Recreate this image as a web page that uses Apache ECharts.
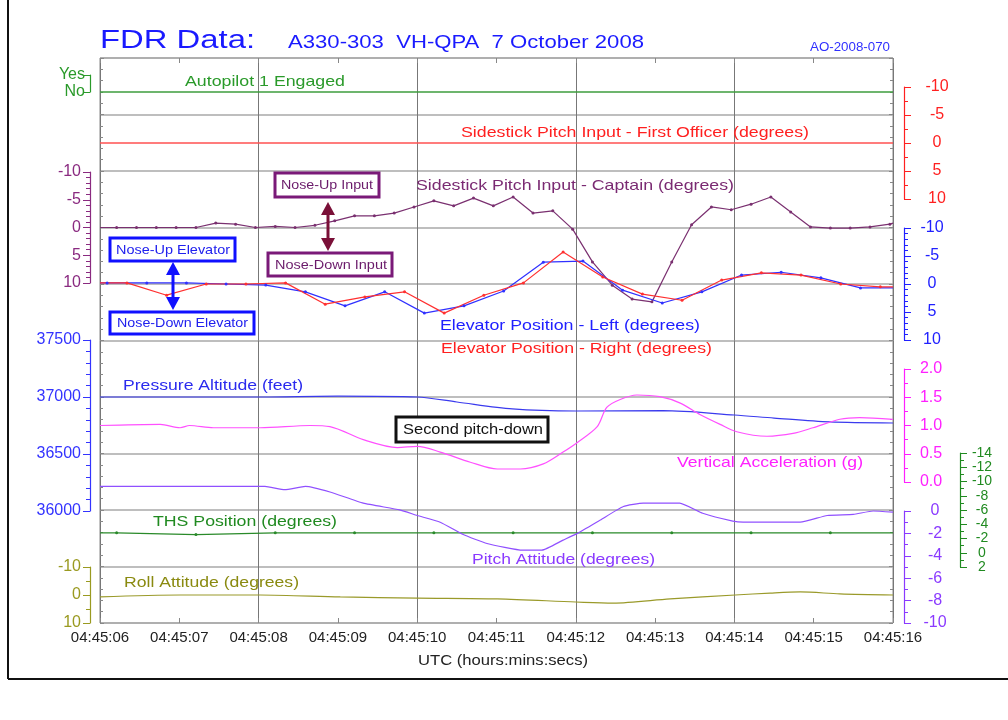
<!DOCTYPE html>
<html>
<head>
<meta charset="utf-8">
<title>FDR Data A330-303 VH-QPA</title>
<script src="https://cdn.jsdelivr.net/npm/echarts@6/dist/echarts.min.js"></script>
<style>
  html, body { margin: 0; padding: 0; background: #fff; }
  #chart { width: 1008px; height: 720px; }
</style>
</head>
<body>
<div id="chart"></div>
<script>
  // time axis: seconds after 04:45:06
  var xLabels = ['04:45:06', '04:45:07', '04:45:08', '04:45:09', '04:45:10', '04:45:11',
    '04:45:12', '04:45:13', '04:45:14', '04:45:15', '04:45:16']

  // autopilot 1 engaged (1 = yes, 0 = no) and first officer sidestick
  var apT = [0, 10]
  var apV = [0, 0]
  var foT = [0, 10]
  var foV = [0, 0]

  // captain sidestick pitch input (4 Hz)
  var capT = [0, 0.21, 0.46, 0.71, 0.96, 1.21, 1.46, 1.71, 1.96, 2.21, 2.46, 2.71, 2.96, 3.21,
    3.46, 3.71, 3.96, 4.21, 4.46, 4.71, 4.96, 5.21, 5.46, 5.71, 5.96, 6.21, 6.46, 6.71, 6.96,
    7.21, 7.46, 7.71, 7.96, 8.21, 8.46, 8.71, 8.96, 9.21, 9.46, 9.71, 9.96, 10]
  var capV = [0, 0, 0, 0, 0, 0, -0.8, -0.6, 0, -0.2, 0, -0.4, -1.2, -2.1, -2.1, -2.6, -3.7,
    -4.8, -3.9, -5.3, -3.9, -5.5, -2.6, -3.0, 0.3, 6.2, 10.4, 12.9, 13.4, 6.2, -0.5, -3.7,
    -3.2, -4.2, -5.5, -2.8, -0.1, 0.1, 0.1, -0.1, -0.6, -0.8]

  // elevator positions (2 Hz)
  var elLT = [0, 0.09, 0.59, 1.09, 1.59, 2.09, 2.59, 3.09, 3.59, 4.09, 4.59, 5.09, 5.59, 6.09,
    6.59, 7.09, 7.59, 8.09, 8.59, 9.09, 9.59, 10]
  var elLV = [-0.2, -0.2, -0.2, -0.2, 0, 0.2, 1.4, 3.9, 1.4, 5.2, 3.9, 1.25, -3.9, -4.1, 1.1,
    3.4, 1.4, -1.6, -2.1, -1.1, 0.7, 0.7]
  var elRT = [0, 0.34, 0.84, 1.34, 1.84, 2.34, 2.84, 3.34, 3.84, 4.34, 4.84, 5.34, 5.84, 6.34,
    6.84, 7.34, 7.84, 8.34, 8.84, 9.34, 9.84, 10]
  var elRV = [-0.2, -0.2, 2.0, 0, 0, -0.2, 3.6, 2.3, 1.4, 5.2, 2.0, -0.2, -5.7, -1.25, 1.8,
    2.9, -0.7, -2.0, -1.6, 0, 0.5, 0.5]

  // pressure altitude (feet)
  var paT = [0, 2, 3, 4, 4.5, 5.2, 6, 7.1, 8, 8.5, 9.2, 10]
  var paV = [37000, 37000, 37008, 37000, 36956, 36895, 36877, 36880, 36842, 36815, 36781, 36772]

  // vertical acceleration (g)
  var vaT = [0, 0.76, 1.01, 1.13, 1.43, 2.02, 2.65, 2.9, 3.32, 3.75, 4.0, 4.29, 4.67, 5.01,
    5.3, 5.59, 5.84, 6.02, 6.27, 6.39, 6.56, 6.77, 7.06, 7.31, 7.57, 7.82, 8.03, 8.41, 8.74,
    8.99, 9.33, 9.58, 10]
  var vaV = [1.0, 1.02, 0.96, 1.0, 0.96, 0.96, 1.0, 0.98, 0.75, 0.61, 0.63, 0.53, 0.35, 0.23,
    0.23, 0.32, 0.53, 0.70, 0.98, 1.32, 1.46, 1.54, 1.51, 1.40, 1.19, 1.02, 0.89, 0.81, 0.86,
    0.96, 1.11, 1.14, 1.11]

  // THS position (1 Hz)
  var thsT = [0, 0.21, 1.21, 2.21, 3.21, 4.21, 5.21, 6.21, 7.21, 8.21, 9.21, 10]
  var thsV = [-2.8, -2.8, -2.55, -2.8, -2.8, -2.8, -2.8, -2.8, -2.8, -2.8, -2.8, -2.8]

  // pitch attitude (degrees)
  var piT = [0, 2.08, 2.33, 2.59, 2.9, 3.32, 3.78, 4.0, 4.29, 4.58, 4.88, 5.33, 5.57, 5.84,
    6.02, 6.31, 6.6, 6.85, 7.31, 7.6, 7.98, 8.11, 8.83, 9.17, 9.5, 9.75, 10]
  var piV = [2.2, 2.2, 1.9, 2.2, 1.7, 0.7, 0.1, -0.4, -1.0, -2.1, -2.9, -3.5, -3.5, -2.6,
    -2.0, -0.8, 0.4, 0.7, 0.7, -0.2, -0.9, -1.0, -1.0, -0.4, -0.3, 0, -0.1]

  // roll attitude (degrees)
  var roT = [0, 1.01, 2.02, 3.03, 4.0, 5.01, 6.0, 6.47, 7.19, 8.01, 8.45, 8.83, 9.33, 10]
  var roV = [0.7, 0, 0, 0.7, 1.1, 1.4, 2.5, 2.9, 1.4, 0, -0.7, -1.1, -0.4, 0]

  var FONT = '"Liberation Sans", Arial, sans-serif'
  var L = 100
  var R = 115

  var grids = [
    { left: L, right: R, top: 58, height: 565, show: true, borderColor: '#888', borderWidth: 1 },
    { left: L, right: R, top: 75, height: 17 }, // autopilot
    { left: L, right: R, top: 87, height: 112 }, // first officer
    { left: L, right: R, top: 172, height: 111 }, // captain
    { left: L, right: R, top: 228, height: 112 }, // elevators
    { left: L, right: R, top: 340, height: 171 }, // pressure altitude
    { left: L, right: R, top: 369, height: 113 }, // vertical accel
    { left: L, right: R, top: 453, height: 114 }, // THS
    { left: L, right: R, top: 511, height: 112 }, // pitch
    { left: L, right: R, top: 567, height: 56 } // roll
  ]

  var xAxes = [
    {
      gridIndex: 0, type: 'value', min: 0, max: 10, interval: 1, position: 'bottom',
      axisLine: { show: false, onZero: false },
      axisTick: { inside: true, length: 5, lineStyle: { color: '#888' } },
      axisLabel: {
        margin: 7, fontSize: 15, fontFamily: FONT, color: '#222',
        formatter: function (v) { return xLabels[Math.round(v)] }
      },
      splitLine: { show: false }
    },
    {
      gridIndex: 0, type: 'value', min: 0, max: 10, interval: 2,
      axisLine: { show: false, onZero: false }, axisTick: { show: false }, axisLabel: { show: false },
      splitLine: { show: true, lineStyle: { color: '#777', width: 1 } }
    },
    {
      gridIndex: 0, type: 'value', min: 0, max: 10, interval: 1, position: 'top',
      axisLine: { show: false, onZero: false },
      axisTick: { inside: true, length: 5, lineStyle: { color: '#888' } },
      axisLabel: { show: false }, splitLine: { show: false }
    }
  ]
  for (var g = 1; g < grids.length; g++) {
    xAxes.push({ gridIndex: g, type: 'value', min: 0, max: 10, show: false, axisLine: { onZero: false } })
  }

  function borderAxis (pos, split) {
    return {
      gridIndex: 0, type: 'value', min: 0, max: 10, interval: 1, position: pos,
      axisLine: { show: false, onZero: false },
      axisTick: { inside: true, length: 4, lineStyle: { color: '#888' } },
      minorTick: { show: true, splitNumber: 5, length: 3, lineStyle: { color: '#888' } },
      axisLabel: { show: false },
      splitLine: { show: split, lineStyle: { color: '#a8a8a8', width: 1.5 } }
    }
  }

  function traceAxis (o) {
    var right = o.side === 'right'
    var label = {
      color: o.color, fontSize: o.size || 16, fontFamily: FONT, margin: o.margin,
      showMinLabel: true, showMaxLabel: true, hideOverlap: false,
      formatter: o.fmt || function (v) { return String(v) }
    }
    if (right) label.align = 'center'
    return {
      gridIndex: o.grid, type: 'value', position: o.side, offset: right ? (o.offset || 11) : 10,
      min: o.min, max: o.max, interval: o.interval, inverse: !!o.inverse,
      axisLine: { show: true, onZero: false, lineStyle: { color: o.color, width: 1.2 } },
      axisTick: { show: true, length: 7, lineStyle: { color: o.color } },
      minorTick: { show: !!o.minor, splitNumber: o.minor || 1, length: 4, lineStyle: { color: o.color } },
      axisLabel: label,
      splitLine: { show: false }
    }
  }

  var yAxes = [
    borderAxis('left', true),
    borderAxis('right', false),
    traceAxis({ grid: 1, side: 'left', min: 0, max: 1, interval: 1, color: '#2a9a2a', margin: 5,
      fmt: function (v) { return v === 1 ? 'Yes' : 'No' } }),
    traceAxis({ grid: 2, side: 'right', min: -10, max: 10, interval: 5, inverse: true, color: '#ff2020', minor: 2, margin: 33 }),
    traceAxis({ grid: 3, side: 'left', min: -10, max: 10, interval: 5, inverse: true, color: '#8a2a80', minor: 5, margin: 9 }),
    traceAxis({ grid: 4, side: 'right', min: -10, max: 10, interval: 5, inverse: true, color: '#2020ff', minor: 5, margin: 28 }),
    traceAxis({ grid: 5, side: 'left', min: 36000, max: 37500, interval: 500, color: '#3333ff', minor: 5, margin: 9 }),
    traceAxis({ grid: 6, side: 'right', min: 0, max: 2, interval: 0.5, color: '#ff20ff', minor: 2, margin: 27,
      fmt: function (v) { return v.toFixed(1) } }),
    traceAxis({ grid: 7, side: 'right', offset: 67, min: -14, max: 2, interval: 2, inverse: true, color: '#208a20', minor: 2, margin: 22, size: 14 }),
    traceAxis({ grid: 8, side: 'right', min: -10, max: 0, interval: 2, color: '#8a3aff', minor: 2, margin: 31 }),
    traceAxis({ grid: 9, side: 'left', min: -10, max: 10, interval: 10, inverse: true, color: '#9a9a20', minor: 2, margin: 9 })
  ]

  function plain (t, v) {
    return t.map(function (x, i) { return [x, v[i]] })
  }
  function marked (t, v) {
    return t.map(function (x, i) {
      var d = { value: [x, v[i]] }
      if (i === 0 || i === t.length - 1) d.symbol = 'none'
      return d
    })
  }
  function line (name, g, data, color, opts) {
    var s = {
      name: name, type: 'line', xAxisIndex: g + 2, yAxisIndex: g + 1, data: data,
      clip: false, symbol: 'circle', symbolSize: 3, showSymbol: false,
      lineStyle: { color: color, width: 1.2 }, itemStyle: { color: color },
      emphasis: { disabled: true }, z: 3
    }
    for (var k in (opts || {})) s[k] = opts[k]
    return s
  }

  var series = [
    line('Autopilot 1 Engaged', 1, plain(apT, apV), '#3c9c3c', { lineStyle: { color: '#3c9c3c', width: 1.5 } }),
    line('Sidestick Pitch Input - First Officer', 2, plain(foT, foV), '#ff5050', { lineStyle: { color: '#ff5050', width: 1.5 } }),
    line('Sidestick Pitch Input - Captain', 3, marked(capT, capV), '#7a3070', { showSymbol: true }),
    line('Elevator Position - Left', 4, marked(elLT, elLV), '#3030ff', { showSymbol: true }),
    line('Elevator Position - Right', 4, marked(elRT, elRV), '#ff3030', { showSymbol: true }),
    line('Pressure Altitude', 5, plain(paT, paV), '#3a3aee', { smooth: 0.3 }),
    line('Vertical Acceleration', 6, plain(vaT, vaV), '#ff50ff', { smooth: 0.3 }),
    line('THS Position', 7, marked(thsT, thsV), '#2a8a2a', { showSymbol: true }),
    line('Pitch Attitude', 8, plain(piT, piV), '#9050ff', { smooth: 0.15 }),
    line('Roll Attitude', 9, plain(roT, roV), '#9a9a2a', { smooth: 0.3 })
  ]

  // text fitted to the width it takes in the reference
  var ctx = document.createElement('canvas').getContext('2d')
  function fitText (text, x, y, w, size, color) {
    var font = size + 'px ' + FONT
    ctx.font = font
    var sx = w / ctx.measureText(text).width
    return {
      type: 'text', x: x, y: y, scaleX: sx, z: 100,
      style: { text: text, fill: color, font: font, textAlign: 'left', textVerticalAlign: 'middle', verticalAlign: 'middle' }
    }
  }
  function box (x, y, w, h, color) {
    return { type: 'rect', z: 90, shape: { x: x, y: y, width: w, height: h }, style: { fill: '#fff', stroke: color, lineWidth: 3 } }
  }
  function dblArrow (x, y1, y2, color) {
    return [
      { type: 'line', z: 95, shape: { x1: x, y1: y1 + 10, x2: x, y2: y2 - 10 }, style: { stroke: color, lineWidth: 3 } },
      { type: 'polygon', z: 95, shape: { points: [[x, y1], [x - 7, y1 + 13], [x + 7, y1 + 13]] }, style: { fill: color } },
      { type: 'polygon', z: 95, shape: { points: [[x, y2], [x - 7, y2 - 13], [x + 7, y2 - 13]] }, style: { fill: color } }
    ]
  }

  var graphics = [
    // page frame
    { type: 'line', shape: { x1: 8, y1: 0, x2: 8, y2: 679 }, style: { stroke: '#111', lineWidth: 2 } },
    { type: 'line', shape: { x1: 8, y1: 679, x2: 1008, y2: 679 }, style: { stroke: '#111', lineWidth: 2 } },
    // titles
    fitText('FDR Data:', 100, 41, 155, 26, '#1a1aff'),
    fitText('A330-303  VH-QPA  7 October 2008', 288, 43, 356, 19, '#1a1aff'),
    fitText('AO-2008-070', 810, 48, 80, 12, '#3030ff'),
    // trace names
    fitText('Autopilot 1 Engaged', 185, 82, 160, 15, '#2a9a2a'),
    fitText('Sidestick Pitch Input - First Officer (degrees)', 461, 133, 348, 15, '#ff2020'),
    fitText('Sidestick Pitch Input - Captain (degrees)', 416, 186, 318, 15, '#7a2a72'),
    fitText('Elevator Position - Left (degrees)', 440, 326, 260, 15, '#2020ff'),
    fitText('Elevator Position - Right (degrees)', 441, 349, 271, 15, '#ff2020'),
    fitText('Pressure Altitude (feet)', 123, 386, 180, 15, '#2a2aee'),
    fitText('Vertical Acceleration (g)', 677, 463, 186, 15, '#ff20ff'),
    fitText('THS Position (degrees)', 153, 522, 184, 15, '#208a20'),
    fitText('Pitch Attitude (degrees)', 472, 560, 183, 15, '#8a3aff'),
    fitText('Roll Attitude (degrees)', 124, 583, 175, 15, '#8a8a10'),
    fitText('UTC (hours:mins:secs)', 418, 661, 170, 15, '#222'),
    // annotation boxes
    box(275, 173, 104, 24, '#7a1a78'),
    fitText('Nose-Up Input', 281, 185.5, 92, 13, '#6a1a6a'),
    box(268, 253, 124, 23, '#7a1a78'),
    fitText('Nose-Down Input', 275, 265, 112, 13, '#6a1a6a'),
    box(110, 238, 125, 23, '#1010ff'),
    fitText('Nose-Up Elevator', 116, 250, 114, 13, '#2020ee'),
    box(110, 312, 144, 22, '#1010ff'),
    fitText('Nose-Down Elevator', 117, 323, 131, 13, '#2020ee'),
    box(396, 417, 152, 25, '#111'),
    fitText('Second pitch-down', 403, 430, 140, 15, '#111')
  ]
  graphics = graphics.concat(dblArrow(328, 202, 251, '#7a1038'))
  graphics = graphics.concat(dblArrow(173, 262, 310, '#1010ff'))

  var option = {
    backgroundColor: '#fff',
    animation: false,
    textStyle: { fontFamily: FONT },
    grid: grids,
    xAxis: xAxes,
    yAxis: yAxes,
    series: series,
    graphic: { elements: graphics }
  }

  var chart = echarts.init(document.getElementById('chart'), null, { renderer: 'canvas' })
  chart.setOption(option)
  window.addEventListener('resize', function () {
    chart.resize()
  })
</script>
</body>
</html>
